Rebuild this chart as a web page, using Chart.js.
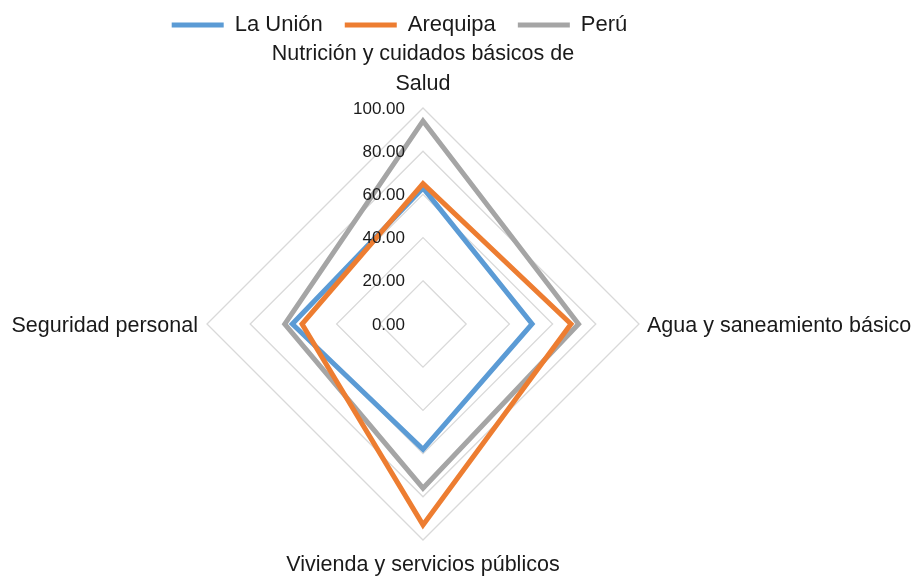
<!DOCTYPE html>
<html>
<head>
<meta charset="utf-8">
<script src="https://cdn.jsdelivr.net/npm/chart.js@4/dist/chart.umd.min.js"></script>
<style>
  html, body { margin: 0; padding: 0; background: #ffffff; }
  #wrap { width: 913px; height: 576px; position: relative; }
</style>
</head>
<body>
<div id="wrap"><canvas id="c"></canvas></div>
<script>
// ---- data ----
const categories = [
  ["Nutrición y cuidados básicos de", "Salud"],
  "Agua y saneamiento básico",
  "Vivienda y servicios públicos",
  "Seguridad personal"
];
const seriesNames = ["La Unión", "Arequipa", "Perú"];
const laUnion  = [63, 50.5, 58, 60.5];
const arequipa = [65, 68.5, 93, 56];
const peru     = [94, 72, 76, 64];
const tickValues = [0, 20, 40, 60, 80, 100];

const FONT = "'Liberation Sans', Arial, sans-serif";
const TEXT = '#1a1a1a';

// draw tick labels and category labels through the radial scale
const labelPlugin = {
  id: 'labelPlugin',
  afterDraw(chart) {
    const s = chart.scales.r;
    const ctx = chart.ctx;
    ctx.save();
    ctx.fillStyle = TEXT;
    // tick labels, left of the vertical axis
    ctx.font = '17px ' + FONT;
    ctx.textAlign = 'right';
    ctx.textBaseline = 'middle';
    s.ticks.forEach(t => {
      const d = s.getDistanceFromCenterForValue(t.value);
      ctx.fillText(Number(t.value).toFixed(2), s.xCenter - 18, s.yCenter - d + 1);
    });
    // category labels
    ctx.font = '21.5px ' + FONT;
    const lh = 30;
    categories.forEach((lab, i) => {
      const lines = Array.isArray(lab) ? lab : [lab];
      const p = s.getPointPosition(i, s.drawingArea);
      const ang = s.getIndexAngle(i); // 0 = top, clockwise
      const dx = Math.sin(ang), dy = -Math.cos(ang);
      if (Math.abs(dy) > 0.5) {
        ctx.textAlign = 'center';
        ctx.textBaseline = 'middle';
        if (dy < 0) {
          const yLast = p.y - 24;
          lines.forEach((ln, k) => ctx.fillText(ln, p.x, yLast - (lines.length - 1 - k) * lh));
        } else {
          const yFirst = p.y + 25;
          lines.forEach((ln, k) => ctx.fillText(ln, p.x, yFirst + k * lh));
        }
      } else {
        ctx.textBaseline = 'middle';
        ctx.textAlign = dx > 0 ? 'left' : 'right';
        const x = p.x + (dx > 0 ? 8 : -9);
        lines.forEach((ln, k) => ctx.fillText(ln, x, p.y + 2 + k * lh));
      }
    });
    ctx.restore();
  }
};

const colors = ['#5B9BD5', '#ED7D31', '#A5A5A5'];
const values = [laUnion, arequipa, peru];
const orders = [3, 1, 2];

new Chart(document.getElementById('c'), {
  type: 'radar',
  data: {
    labels: categories,
    datasets: seriesNames.map((n, i) => ({
      label: n,
      data: values[i],
      borderColor: colors[i],
      backgroundColor: colors[i],
      borderWidth: 5,
      borderCapStyle: 'round',
      pointRadius: 0,
      pointHoverRadius: 0,
      fill: false,
      tension: 0,
      order: orders[i]
    }))
  },
  options: {
    responsive: true,
    maintainAspectRatio: false,
    animation: false,
    layout: { padding: { top: -8, right: 114, left: 0, bottom: 0 } },
    plugins: {
      legend: {
        position: 'top',
        align: 'center',
        labels: {
          usePointStyle: true,
          pointStyle: 'line',
          pointStyleWidth: 52,
          padding: 22,
          color: TEXT,
          font: { size: 22, family: FONT },
          sort: (a, b) => a.datasetIndex - b.datasetIndex
        }
      },
      tooltip: { enabled: false }
    },
    scales: {
      r: {
        min: 0,
        max: 100,
        ticks: { display: false, stepSize: 20 },
        afterBuildTicks: (scale) => { scale.ticks = tickValues.map(v => ({ value: v })); },
        pointLabels: { display: false },
        angleLines: { display: false },
        grid: { color: '#d9d9d9', lineWidth: 1.3 },
        afterFit: (scale) => {
          scale.xCenter = 423;
          scale.yCenter = 324;
          scale.drawingArea = 216;
        }
      }
    }
  },
  plugins: [labelPlugin]
});
</script>
</body>
</html>
